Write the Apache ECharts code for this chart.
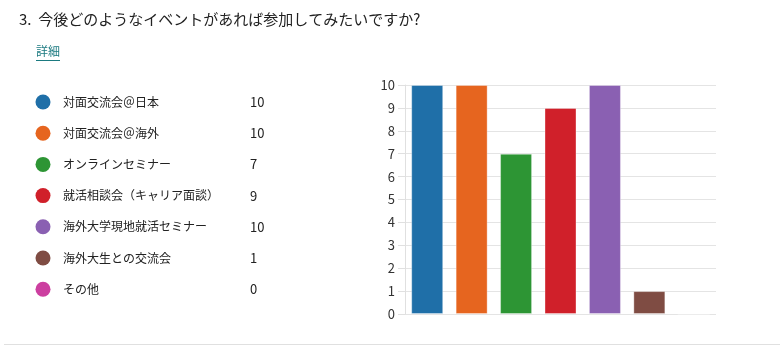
<!DOCTYPE html>
<html><head><meta charset="utf-8">
<script src="https://cdn.jsdelivr.net/npm/echarts@6/dist/echarts.min.js"></script>
<style>html,body{margin:0;padding:0;background:#fff;}#c{width:780px;height:346px;}</style>
</head><body><div id="c"></div>
<script>
const categories = ['対面交流会＠日本','対面交流会＠海外','オンラインセミナー','就活相談会（キャリア面談）','海外大学現地就活セミナー','海外大生との交流会','その他'];
const values = [10, 10, 7, 9, 10, 1, 0];
const colors = ['#1f6fa8','#e6651f','#2d9534','#d0202a','#8a60b2','#7f4c43','#cc3fa0'];
const yTicks = [0,1,2,3,4,5,6,7,8,9,10];
const title = '3.  今後どのようなイベントがあれば参加してみたいですか?';
const linkText = '詳細';

const FONT = '"Noto Sans CJK JP", sans-serif';
const chart = echarts.init(document.getElementById('c'), null, {renderer:'canvas'});

const graphics = [
  {type:'text', left:19, top:12, style:{text:title, font:'15px ' + FONT, fill:'#222'}},
  {type:'text', left:36, top:45, style:{text:linkText, font:'12px ' + FONT, fill:'#1b7a80'}},
  {type:'rect', left:36, top:60, shape:{width:24, height:1}, style:{fill:'#1b7a80'}},
  {type:'rect', left:4, top:344, shape:{width:776, height:1}, style:{fill:'#e0e0e0'}}
];
categories.forEach((name, i) => {
  const cy = 102 + i * 31.2;
  graphics.push({type:'circle', shape:{cx:43, cy:cy, r:7.5}, style:{fill:colors[i]}});
  graphics.push({type:'text', x:63, y:cy, style:{text:name, font:'12px ' + FONT, fill:'#222', textVerticalAlign:'middle'}});
  graphics.push({type:'text', x:250, y:cy, style:{text:String(values[i]), font:'13px ' + FONT, fill:'#222', textVerticalAlign:'middle'}});
});

chart.setOption({
  animation:false,
  grid:{left:405, right:64, top:85, bottom:32},
  xAxis:{type:'category', data:categories, axisLabel:{show:false}, axisTick:{show:false},
    axisLine:{show:false}},
  yAxis:{type:'value', min:0, max:10, interval:1,
    axisLine:{show:true, lineStyle:{color:'#e0e0e0'}},
    axisTick:{show:true, length:7, lineStyle:{color:'#e0e0e0'}},
    splitLine:{lineStyle:{color:'#e4e4e4'}},
    axisLabel:{margin:10, color:'#333', fontSize:13, fontFamily:FONT,
      formatter: v => yTicks.includes(v) ? String(v) : ''}},
  series:[{type:'bar', barWidth:32,
    data: values.map((v,i)=>({value:v, itemStyle:{color:colors[i], borderColor:'rgba(255,255,255,0.35)', borderWidth:1}}))}],
  graphic: graphics
});
</script></body></html>
